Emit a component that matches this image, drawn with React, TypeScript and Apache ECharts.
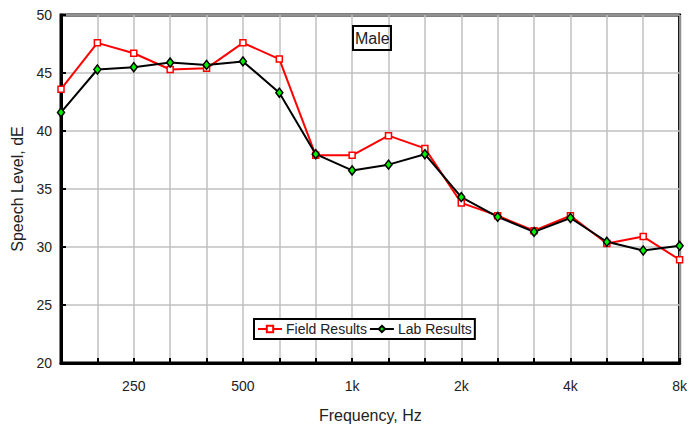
import React, { useEffect, useRef } from "react";
import * as echarts from "echarts";

const categories = ["160", "200", "250", "315", "400", "500", "630", "800", "1k", "1.25k", "1.6k", "2k", "2.5k", "3.15k", "4k", "5k", "6.3k", "8k"];
const shownLabels = ["250", "500", "1k", "2k", "4k", "8k"];
const fieldResults = [43.6, 47.6, 46.7, 45.3, 45.4, 47.6, 46.2, 37.9, 37.9, 39.6, 38.5, 33.8, 32.7, 31.4, 32.7, 30.3, 30.9, 28.9];
const labResults = [41.6, 45.3, 45.5, 45.9, 45.7, 46.0, 43.3, 38.0, 36.6, 37.1, 38.0, 34.3, 32.6, 31.3, 32.5, 30.45, 29.7, 30.1];
const yTicks = { min: 20, max: 50, interval: 5 };

const FONT = "'Liberation Sans', Arial, sans-serif";

export default function App() {
  const ref = useRef<HTMLDivElement>(null);
  useEffect(() => {
    if (!ref.current) return;
    const chart = echarts.init(ref.current, null, { renderer: "svg" });
    chart.setOption({
      animation: false,
      textStyle: { fontFamily: FONT },
      title: {
        text: "Male",
        left: 353,
        top: 26,
        padding: [4, 2, 4, 2],
        borderColor: "#000",
        borderWidth: 2,
        textStyle: { fontSize: 16, fontWeight: "normal", color: "#222", fontFamily: FONT },
      },
      legend: {
        left: 254,
        top: 319,
        padding: [3, 3, 3, 3],
        itemGap: 2,
        itemWidth: 24,
        itemHeight: 8,
        borderColor: "#000",
        borderWidth: 2,
        backgroundColor: "#fff",
        textStyle: { fontSize: 14, color: "#222", fontFamily: FONT, padding: [0, 0, 0, -1] },
        data: ["Field Results", "Lab Results"],
      },
      grid: {
        left: 61,
        top: 15,
        right: 10,
        bottom: 62,
        show: true,
        borderColor: "#000",
        borderWidth: 3,
        backgroundColor: "transparent",
      },
      xAxis: {
        type: "category",
        data: categories,
        boundaryGap: false,
        name: "Frequency, Hz",
        nameLocation: "middle",
        nameGap: 44,
        nameTextStyle: { fontSize: 16, color: "#222", fontFamily: FONT },
        axisLine: { lineStyle: { color: "#000", width: 3 } },
        axisTick: { show: true, inside: true, length: 5, interval: 0, lineStyle: { color: "#000", width: 2 } },
        axisLabel: {
          interval: (i: number, v: string) => shownLabels.includes(v),
          margin: 16,
          fontSize: 14,
          color: "#222",
          fontFamily: FONT,
        },
        splitLine: { show: true, interval: 0, lineStyle: { color: "#c0c0c0", width: 1.5 } },
      },
      yAxis: {
        type: "value",
        min: yTicks.min,
        max: yTicks.max,
        interval: yTicks.interval,
        name: "Speech Level, dE",
        nameLocation: "middle",
        nameGap: 32,
        nameTextStyle: { fontSize: 16, color: "#222", fontFamily: FONT },
        axisLine: { show: true, lineStyle: { color: "#000", width: 3 } },
        axisTick: { show: true, inside: true, length: 5, lineStyle: { color: "#000", width: 2 } },
        axisLabel: { margin: 9, fontSize: 14, color: "#222", fontFamily: FONT },
        splitLine: { show: true, lineStyle: { color: "#c0c0c0", width: 1.5 } },
      },
      series: [
        {
          name: "Field Results",
          type: "line",
          data: fieldResults,
          symbol: "rect",
          symbolSize: 6,
          lineStyle: { color: "#ff0000", width: 2 },
          itemStyle: { color: "#fff", borderColor: "#ff0000", borderWidth: 1.5 },
        },
        {
          name: "Lab Results",
          type: "line",
          data: labResults,
          symbol: "diamond",
          symbolSize: [7, 9],
          lineStyle: { color: "#000", width: 2 },
          itemStyle: { color: "#00ee00", borderColor: "#000", borderWidth: 1.5 },
        },
      ],
    });
    return () => chart.dispose();
  }, []);
  return <div ref={ref} style={{ width: 690, height: 428, position: "absolute", left: 0, top: 0 }} />;
}
